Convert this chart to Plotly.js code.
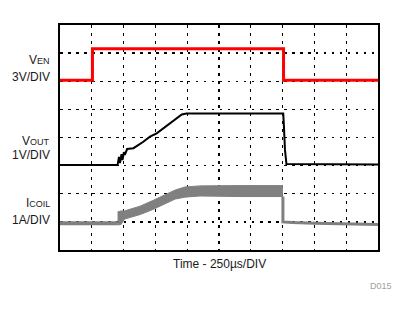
<!DOCTYPE html>
<html>
<head>
<meta charset="utf-8">
<script src="https://cdn.plot.ly/plotly-3.0.1.min.js"></script>
<style>html,body{margin:0;padding:0;background:#fff;}#chart{width:411px;height:312px;}</style>
</head>
<body>
<div id="chart"></div>
<script>
// Time in divisions (250 µs/DIV), vertical position in screen divisions
var enX = [0, 1.02, 1.02, 7.03, 7.03, 10];
var enY = [6.04, 6.04, 7.16, 7.16, 6.04, 6.04];

var outX = [0, 1.81, 1.855, 1.887, 1.934, 1.965, 2.01, 2.04, 2.11, 2.31, 2.62, 2.83, 3.04, 3.25, 3.46, 3.67, 3.83, 3.98, 7.02, 7.04, 7.075, 7.12, 10];
var outY = [3.02, 3.02, 3.31, 3.09, 3.41, 3.2, 3.48, 3.38, 3.59, 3.62, 3.85, 4.03, 4.15, 4.33, 4.50, 4.68, 4.82, 4.85, 4.85, 4.44, 3.56, 3.06, 3.04];

var coilBaseX = [0, 1.81];
var coilBaseY = [0.95, 0.95];
var coilBandX = [1.81, 1.92, 2.03, 2.26, 2.52, 2.92, 3.30, 3.62, 3.93, 4.40, 5.66, 7.01];
var coilUpper = [1.35, 1.39, 1.39, 1.46, 1.56, 1.76, 1.96, 2.13, 2.24, 2.28, 2.29, 2.29];
var coilLower = [0.89, 0.91, 1.10, 1.17, 1.26, 1.44, 1.64, 1.81, 1.88, 1.92, 1.90, 1.90];
var coilAfterX = [7.01, 7.01, 7.3, 8, 10];
var coilAfterY = [1.90, 1.00, 0.98, 0.95, 0.91];

var traces = [
  {x: coilBaseX, y: coilBaseY, mode: 'lines', line: {color: '#808080', width: 4}, hoverinfo: 'skip'},
  {x: coilBandX, y: coilLower, mode: 'lines', line: {color: '#808080', width: 1}, hoverinfo: 'skip'},
  {x: coilBandX, y: coilUpper, mode: 'lines', fill: 'tonexty', fillcolor: '#808080', line: {color: '#808080', width: 1}, hoverinfo: 'skip'},
  {x: coilAfterX, y: coilAfterY, mode: 'lines', line: {color: '#808080', width: 3}, hoverinfo: 'skip'},
  {x: outX, y: outY, mode: 'lines', line: {color: '#000000', width: 2}, hoverinfo: 'skip'},
  {x: enX, y: enY, mode: 'lines', line: {color: '#ff0000', width: 3}, hoverinfo: 'skip'}
];

var lf = {family: 'Liberation Sans, Arial, sans-serif', size: 12, color: '#1a1a1a'};
function lab(text, y) {
  return {xref: 'paper', yref: 'y', x: -0.028, y: y, xanchor: 'right', yanchor: 'middle', text: text, showarrow: false, font: lf, borderpad: 0};
}
var sub = function (s) { return '<span style="font-size:9px">' + s + '</span>'; };

var layout = {
  width: 411, height: 312,
  margin: {l: 60, r: 33, t: 25, b: 62},
  paper_bgcolor: '#ffffff', plot_bgcolor: '#ffffff',
  showlegend: false,
  xaxis: {range: [0, 10], dtick: 1, tick0: 0, showgrid: true, gridcolor: '#000000', gridwidth: 1.3, griddash: '2.5px,5.5px',
          zeroline: false, showticklabels: false, ticks: '', showline: true, linecolor: '#000000', linewidth: 2, mirror: true, fixedrange: true},
  yaxis: {range: [0, 8], dtick: 1, tick0: 0, showgrid: true, gridcolor: '#000000', gridwidth: 1.3, griddash: '2.5px,5.5px',
          zeroline: false, showticklabels: false, ticks: '', showline: true, linecolor: '#000000', linewidth: 2, mirror: true, fixedrange: true},
  annotations: [
    lab('V' + sub('EN'), 6.75),
    lab('3V/DIV', 6.15),
    lab('V' + sub('OUT'), 3.88),
    lab('1V/DIV', 3.37),
    lab('I' + sub('COIL'), 1.67),
    lab('1A/DIV', 1.08),
    {xref: 'paper', yref: 'paper', x: 0.5, y: -0.062, xanchor: 'center', yanchor: 'middle', text: 'Time - 250µs/DIV', showarrow: false, font: lf},
    {xref: 'paper', yref: 'paper', x: 1.050, y: -0.158, xanchor: 'right', yanchor: 'middle', text: 'D015', showarrow: false,
     font: {family: 'Liberation Sans, Arial, sans-serif', size: 9, color: '#a0a0a0'}}
  ]
};

Plotly.newPlot('chart', traces, layout, {displayModeBar: false, staticPlot: true});
</script>
</body>
</html>
